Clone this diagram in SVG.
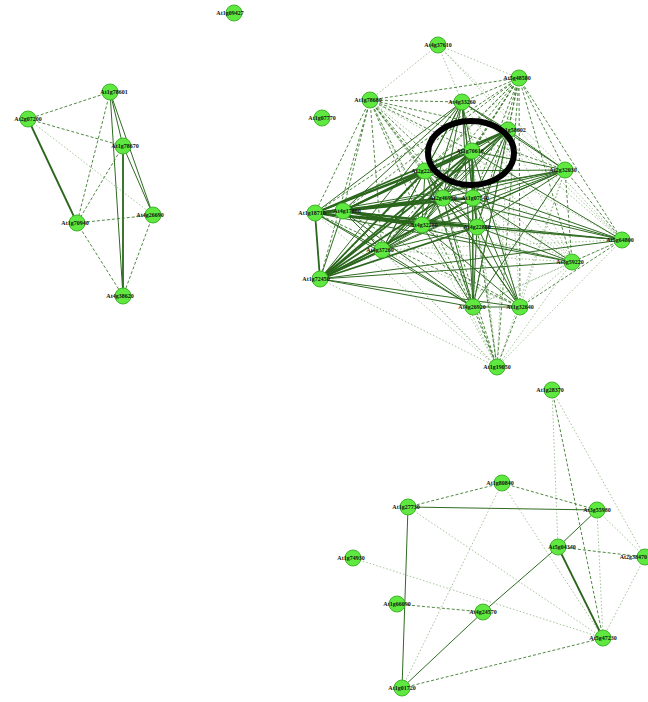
<svg xmlns="http://www.w3.org/2000/svg" width="648" height="702" viewBox="0 0 648 702">
<style>
.s{stroke:#2f6b22;stroke-width:1;fill:none}
.t{stroke:#2a661c;stroke-width:1.8;fill:none}
.d{stroke:#3c7a2e;stroke-width:0.9;stroke-dasharray:3 2;fill:none}
.o{stroke:#7fa873;stroke-width:0.7;stroke-dasharray:1.5 2;fill:none}
.n circle{fill:#5fe840;stroke:#3fb52a;stroke-width:1}
.n text{font-family:"Liberation Serif",serif;font-size:6px;font-weight:bold;fill:#111;text-anchor:middle}
</style>
<rect width="648" height="702" fill="#fff"/>
<g id="connectors">
<!-- top-left cluster -->
<line class="d" x1="110" y1="92" x2="28" y2="119"/>
<line class="s" x1="110" y1="92" x2="123" y2="146"/>
<line class="d" x1="110" y1="92" x2="77" y2="223"/>
<line class="s" x1="110" y1="92" x2="153" y2="215"/>
<line class="s" x1="110" y1="92" x2="123" y2="296"/>
<line class="d" x1="28" y1="119" x2="123" y2="146"/>
<line class="t" x1="28" y1="119" x2="77" y2="223"/>
<line class="o" x1="28" y1="119" x2="153" y2="215"/>
<line class="d" x1="123" y1="146" x2="77" y2="223"/>
<line class="s" x1="123" y1="146" x2="153" y2="215"/>
<line class="t" x1="123" y1="146" x2="123" y2="296"/>
<line class="d" x1="77" y1="223" x2="153" y2="215"/>
<line class="d" x1="77" y1="223" x2="123" y2="296"/>
<line class="d" x1="153" y1="215" x2="123" y2="296"/>
<!-- top-right cluster -->
<line class="o" x1="438" y1="45" x2="370" y2="100"/>
<line class="o" x1="438" y1="45" x2="462" y2="102"/>
<line class="o" x1="438" y1="45" x2="519" y2="78"/>
<line class="o" x1="438" y1="45" x2="565" y2="170"/>
<line class="o" x1="438" y1="45" x2="622" y2="240"/>
<line class="d" x1="370" y1="100" x2="462" y2="102"/>
<line class="d" x1="370" y1="100" x2="519" y2="78"/>
<line class="d" x1="370" y1="100" x2="508" y2="130"/>
<line class="d" x1="370" y1="100" x2="472" y2="151"/>
<line class="d" x1="370" y1="100" x2="565" y2="170"/>
<line class="d" x1="370" y1="100" x2="473" y2="198"/>
<line class="o" x1="370" y1="100" x2="622" y2="240"/>
<line class="o" x1="370" y1="100" x2="572" y2="262"/>
<line class="o" x1="370" y1="100" x2="520" y2="307"/>
<line class="d" x1="370" y1="100" x2="473" y2="307"/>
<line class="o" x1="370" y1="100" x2="497" y2="367"/>
<line class="d" x1="370" y1="100" x2="315" y2="213"/>
<line class="d" x1="370" y1="100" x2="343" y2="211"/>
<line class="d" x1="370" y1="100" x2="320" y2="279"/>
<line class="d" x1="370" y1="100" x2="382" y2="250"/>
<line class="d" x1="370" y1="100" x2="422" y2="225"/>
<line class="d" x1="370" y1="100" x2="443" y2="198"/>
<line class="d" x1="370" y1="100" x2="477" y2="227"/>
<line class="d" x1="370" y1="100" x2="425" y2="171"/>
<line class="d" x1="462" y1="102" x2="519" y2="78"/>
<line class="s" x1="462" y1="102" x2="508" y2="130"/>
<line class="s" x1="462" y1="102" x2="472" y2="151"/>
<line class="s" x1="462" y1="102" x2="565" y2="170"/>
<line class="s" x1="462" y1="102" x2="473" y2="198"/>
<line class="o" x1="462" y1="102" x2="622" y2="240"/>
<line class="o" x1="462" y1="102" x2="572" y2="262"/>
<line class="o" x1="462" y1="102" x2="520" y2="307"/>
<line class="s" x1="462" y1="102" x2="473" y2="307"/>
<line class="o" x1="462" y1="102" x2="497" y2="367"/>
<line class="s" x1="462" y1="102" x2="315" y2="213"/>
<line class="s" x1="462" y1="102" x2="343" y2="211"/>
<line class="s" x1="462" y1="102" x2="320" y2="279"/>
<line class="s" x1="462" y1="102" x2="382" y2="250"/>
<line class="s" x1="462" y1="102" x2="422" y2="225"/>
<line class="s" x1="462" y1="102" x2="443" y2="198"/>
<line class="s" x1="462" y1="102" x2="477" y2="227"/>
<line class="s" x1="462" y1="102" x2="425" y2="171"/>
<line class="d" x1="519" y1="78" x2="508" y2="130"/>
<line class="d" x1="519" y1="78" x2="472" y2="151"/>
<line class="d" x1="519" y1="78" x2="565" y2="170"/>
<line class="d" x1="519" y1="78" x2="473" y2="198"/>
<line class="d" x1="519" y1="78" x2="622" y2="240"/>
<line class="d" x1="519" y1="78" x2="572" y2="262"/>
<line class="d" x1="519" y1="78" x2="520" y2="307"/>
<line class="d" x1="519" y1="78" x2="473" y2="307"/>
<line class="d" x1="519" y1="78" x2="497" y2="367"/>
<line class="d" x1="519" y1="78" x2="315" y2="213"/>
<line class="d" x1="519" y1="78" x2="343" y2="211"/>
<line class="d" x1="519" y1="78" x2="320" y2="279"/>
<line class="d" x1="519" y1="78" x2="382" y2="250"/>
<line class="d" x1="519" y1="78" x2="422" y2="225"/>
<line class="d" x1="519" y1="78" x2="443" y2="198"/>
<line class="d" x1="519" y1="78" x2="477" y2="227"/>
<line class="d" x1="519" y1="78" x2="425" y2="171"/>
<line class="s" x1="508" y1="130" x2="472" y2="151"/>
<line class="s" x1="508" y1="130" x2="565" y2="170"/>
<line class="s" x1="508" y1="130" x2="473" y2="198"/>
<line class="o" x1="508" y1="130" x2="622" y2="240"/>
<line class="o" x1="508" y1="130" x2="572" y2="262"/>
<line class="o" x1="508" y1="130" x2="520" y2="307"/>
<line class="s" x1="508" y1="130" x2="473" y2="307"/>
<line class="o" x1="508" y1="130" x2="497" y2="367"/>
<line class="t" x1="508" y1="130" x2="315" y2="213"/>
<line class="t" x1="508" y1="130" x2="343" y2="211"/>
<line class="t" x1="508" y1="130" x2="320" y2="279"/>
<line class="s" x1="508" y1="130" x2="382" y2="250"/>
<line class="s" x1="508" y1="130" x2="422" y2="225"/>
<line class="s" x1="508" y1="130" x2="443" y2="198"/>
<line class="s" x1="508" y1="130" x2="477" y2="227"/>
<line class="s" x1="508" y1="130" x2="425" y2="171"/>
<line class="s" x1="472" y1="151" x2="565" y2="170"/>
<line class="t" x1="472" y1="151" x2="473" y2="198"/>
<line class="s" x1="472" y1="151" x2="622" y2="240"/>
<line class="o" x1="472" y1="151" x2="572" y2="262"/>
<line class="s" x1="472" y1="151" x2="520" y2="307"/>
<line class="s" x1="472" y1="151" x2="473" y2="307"/>
<line class="o" x1="472" y1="151" x2="497" y2="367"/>
<line class="t" x1="472" y1="151" x2="315" y2="213"/>
<line class="t" x1="472" y1="151" x2="343" y2="211"/>
<line class="t" x1="472" y1="151" x2="320" y2="279"/>
<line class="t" x1="472" y1="151" x2="382" y2="250"/>
<line class="s" x1="472" y1="151" x2="422" y2="225"/>
<line class="s" x1="472" y1="151" x2="443" y2="198"/>
<line class="s" x1="472" y1="151" x2="477" y2="227"/>
<line class="s" x1="472" y1="151" x2="425" y2="171"/>
<line class="s" x1="565" y1="170" x2="473" y2="198"/>
<line class="d" x1="565" y1="170" x2="622" y2="240"/>
<line class="d" x1="565" y1="170" x2="572" y2="262"/>
<line class="o" x1="565" y1="170" x2="520" y2="307"/>
<line class="s" x1="565" y1="170" x2="473" y2="307"/>
<line class="o" x1="565" y1="170" x2="497" y2="367"/>
<line class="s" x1="565" y1="170" x2="315" y2="213"/>
<line class="s" x1="565" y1="170" x2="343" y2="211"/>
<line class="s" x1="565" y1="170" x2="320" y2="279"/>
<line class="s" x1="565" y1="170" x2="382" y2="250"/>
<line class="s" x1="565" y1="170" x2="422" y2="225"/>
<line class="s" x1="565" y1="170" x2="443" y2="198"/>
<line class="s" x1="565" y1="170" x2="477" y2="227"/>
<line class="s" x1="565" y1="170" x2="425" y2="171"/>
<line class="s" x1="473" y1="198" x2="622" y2="240"/>
<line class="s" x1="473" y1="198" x2="572" y2="262"/>
<line class="s" x1="473" y1="198" x2="520" y2="307"/>
<line class="s" x1="473" y1="198" x2="473" y2="307"/>
<line class="o" x1="473" y1="198" x2="497" y2="367"/>
<line class="t" x1="473" y1="198" x2="315" y2="213"/>
<line class="t" x1="473" y1="198" x2="343" y2="211"/>
<line class="t" x1="473" y1="198" x2="320" y2="279"/>
<line class="s" x1="473" y1="198" x2="382" y2="250"/>
<line class="s" x1="473" y1="198" x2="422" y2="225"/>
<line class="s" x1="473" y1="198" x2="443" y2="198"/>
<line class="s" x1="473" y1="198" x2="477" y2="227"/>
<line class="s" x1="473" y1="198" x2="425" y2="171"/>
<line class="d" x1="622" y1="240" x2="572" y2="262"/>
<line class="d" x1="622" y1="240" x2="520" y2="307"/>
<line class="o" x1="622" y1="240" x2="473" y2="307"/>
<line class="o" x1="622" y1="240" x2="497" y2="367"/>
<line class="s" x1="622" y1="240" x2="315" y2="213"/>
<line class="s" x1="622" y1="240" x2="343" y2="211"/>
<line class="s" x1="622" y1="240" x2="320" y2="279"/>
<line class="o" x1="622" y1="240" x2="382" y2="250"/>
<line class="o" x1="622" y1="240" x2="422" y2="225"/>
<line class="s" x1="622" y1="240" x2="443" y2="198"/>
<line class="s" x1="622" y1="240" x2="477" y2="227"/>
<line class="s" x1="622" y1="240" x2="425" y2="171"/>
<line class="o" x1="572" y1="262" x2="520" y2="307"/>
<line class="o" x1="572" y1="262" x2="473" y2="307"/>
<line class="o" x1="572" y1="262" x2="497" y2="367"/>
<line class="s" x1="572" y1="262" x2="315" y2="213"/>
<line class="s" x1="572" y1="262" x2="343" y2="211"/>
<line class="s" x1="572" y1="262" x2="320" y2="279"/>
<line class="o" x1="572" y1="262" x2="382" y2="250"/>
<line class="o" x1="572" y1="262" x2="422" y2="225"/>
<line class="o" x1="572" y1="262" x2="443" y2="198"/>
<line class="s" x1="572" y1="262" x2="477" y2="227"/>
<line class="o" x1="572" y1="262" x2="425" y2="171"/>
<line class="s" x1="520" y1="307" x2="473" y2="307"/>
<line class="d" x1="520" y1="307" x2="497" y2="367"/>
<line class="d" x1="520" y1="307" x2="315" y2="213"/>
<line class="d" x1="520" y1="307" x2="343" y2="211"/>
<line class="s" x1="520" y1="307" x2="320" y2="279"/>
<line class="o" x1="520" y1="307" x2="382" y2="250"/>
<line class="s" x1="520" y1="307" x2="422" y2="225"/>
<line class="s" x1="520" y1="307" x2="443" y2="198"/>
<line class="s" x1="520" y1="307" x2="477" y2="227"/>
<line class="s" x1="520" y1="307" x2="425" y2="171"/>
<line class="d" x1="473" y1="307" x2="497" y2="367"/>
<line class="s" x1="473" y1="307" x2="315" y2="213"/>
<line class="s" x1="473" y1="307" x2="343" y2="211"/>
<line class="s" x1="473" y1="307" x2="320" y2="279"/>
<line class="s" x1="473" y1="307" x2="382" y2="250"/>
<line class="s" x1="473" y1="307" x2="422" y2="225"/>
<line class="s" x1="473" y1="307" x2="443" y2="198"/>
<line class="s" x1="473" y1="307" x2="477" y2="227"/>
<line class="s" x1="473" y1="307" x2="425" y2="171"/>
<line class="o" x1="497" y1="367" x2="315" y2="213"/>
<line class="o" x1="497" y1="367" x2="343" y2="211"/>
<line class="o" x1="497" y1="367" x2="320" y2="279"/>
<line class="o" x1="497" y1="367" x2="382" y2="250"/>
<line class="o" x1="497" y1="367" x2="422" y2="225"/>
<line class="d" x1="497" y1="367" x2="443" y2="198"/>
<line class="d" x1="497" y1="367" x2="477" y2="227"/>
<line class="d" x1="497" y1="367" x2="425" y2="171"/>
<line class="t" x1="315" y1="213" x2="343" y2="211"/>
<line class="t" x1="315" y1="213" x2="320" y2="279"/>
<line class="s" x1="315" y1="213" x2="382" y2="250"/>
<line class="t" x1="315" y1="213" x2="422" y2="225"/>
<line class="t" x1="315" y1="213" x2="443" y2="198"/>
<line class="t" x1="315" y1="213" x2="477" y2="227"/>
<line class="t" x1="315" y1="213" x2="425" y2="171"/>
<line class="s" x1="343" y1="211" x2="320" y2="279"/>
<line class="s" x1="343" y1="211" x2="382" y2="250"/>
<line class="t" x1="343" y1="211" x2="422" y2="225"/>
<line class="t" x1="343" y1="211" x2="443" y2="198"/>
<line class="t" x1="343" y1="211" x2="477" y2="227"/>
<line class="t" x1="343" y1="211" x2="425" y2="171"/>
<line class="t" x1="320" y1="279" x2="382" y2="250"/>
<line class="t" x1="320" y1="279" x2="422" y2="225"/>
<line class="t" x1="320" y1="279" x2="443" y2="198"/>
<line class="t" x1="320" y1="279" x2="477" y2="227"/>
<line class="t" x1="320" y1="279" x2="425" y2="171"/>
<line class="s" x1="382" y1="250" x2="422" y2="225"/>
<line class="s" x1="382" y1="250" x2="443" y2="198"/>
<line class="s" x1="382" y1="250" x2="477" y2="227"/>
<line class="s" x1="382" y1="250" x2="425" y2="171"/>
<line class="s" x1="422" y1="225" x2="443" y2="198"/>
<line class="s" x1="422" y1="225" x2="477" y2="227"/>
<line class="s" x1="422" y1="225" x2="425" y2="171"/>
<line class="s" x1="443" y1="198" x2="477" y2="227"/>
<line class="s" x1="443" y1="198" x2="425" y2="171"/>
<line class="s" x1="477" y1="227" x2="425" y2="171"/>
<!-- bottom cluster -->
<line class="o" x1="552" y1="390" x2="558" y2="547"/>
<line class="d" x1="552" y1="390" x2="603" y2="638"/>
<line class="o" x1="552" y1="390" x2="645" y2="557"/>
<line class="d" x1="502" y1="483" x2="408" y2="507"/>
<line class="d" x1="502" y1="483" x2="597" y2="510"/>
<line class="o" x1="502" y1="483" x2="402" y2="688"/>
<line class="o" x1="502" y1="483" x2="603" y2="638"/>
<line class="s" x1="408" y1="507" x2="597" y2="510"/>
<line class="s" x1="408" y1="507" x2="402" y2="688"/>
<line class="o" x1="408" y1="507" x2="603" y2="638"/>
<line class="s" x1="597" y1="510" x2="558" y2="547"/>
<line class="o" x1="597" y1="510" x2="603" y2="638"/>
<line class="o" x1="597" y1="510" x2="645" y2="557"/>
<line class="t" x1="558" y1="547" x2="603" y2="638"/>
<line class="d" x1="558" y1="547" x2="645" y2="557"/>
<line class="s" x1="402" y1="688" x2="483" y2="612"/>
<line class="s" x1="483" y1="612" x2="558" y2="547"/>
<line class="o" x1="353" y1="558" x2="603" y2="638"/>
<line class="d" x1="397" y1="604" x2="483" y2="612"/>
<line class="d" x1="402" y1="688" x2="603" y2="638"/>
<line class="o" x1="645" y1="557" x2="603" y2="638"/>
</g>
<g id="n_iso1" class="n"><circle cx="234" cy="13" r="8"/><text x="230" y="15">At1g09427</text></g>
<g id="n_A1" class="n"><circle cx="110" cy="92" r="8"/><text x="114" y="94">At1g78601</text></g>
<g id="n_A2" class="n"><circle cx="28" cy="119" r="8"/><text x="28" y="121">At2g07200</text></g>
<g id="n_A3" class="n"><circle cx="123" cy="146" r="8"/><text x="125" y="148">At1g78670</text></g>
<g id="n_A4" class="n"><circle cx="77" cy="223" r="8"/><text x="75" y="225">At1g70940</text></g>
<g id="n_A5" class="n"><circle cx="153" cy="215" r="8"/><text x="150" y="217">At4g26690</text></g>
<g id="n_A6" class="n"><circle cx="123" cy="296" r="8"/><text x="120" y="298">At4g38620</text></g>
<g id="n_B1" class="n"><circle cx="438" cy="45" r="8"/><text x="438" y="47">At4g37610</text></g>
<g id="n_B2" class="n"><circle cx="322" cy="118" r="8"/><text x="322" y="120">At1g07770</text></g>
<g id="n_B3" class="n"><circle cx="370" cy="100" r="8"/><text x="368" y="102">At1g78680</text></g>
<g id="n_B4" class="n"><circle cx="462" cy="102" r="8"/><text x="462" y="104">At4g33260</text></g>
<g id="n_B5" class="n"><circle cx="519" cy="78" r="8"/><text x="517" y="80">At5g48580</text></g>
<g id="n_B6" class="n"><circle cx="508" cy="130" r="8"/><text x="512" y="132">At1g58602</text></g>
<g id="n_B7" class="n"><circle cx="472" cy="151" r="8"/><text x="470" y="153">At1g70610</text></g>
<g id="n_B8" class="n"><circle cx="565" cy="170" r="8"/><text x="563" y="172">At2g32030</text></g>
<g id="n_B9" class="n"><circle cx="473" cy="198" r="8"/><text x="475" y="200">At1g07540</text></g>
<g id="n_B10" class="n"><circle cx="622" cy="240" r="8"/><text x="620" y="242">At5g64800</text></g>
<g id="n_B11" class="n"><circle cx="572" cy="262" r="8"/><text x="570" y="264">At3g59220</text></g>
<g id="n_B12" class="n"><circle cx="520" cy="307" r="8"/><text x="520" y="309">At1g32640</text></g>
<g id="n_B13" class="n"><circle cx="473" cy="307" r="8"/><text x="472" y="309">At4g26920</text></g>
<g id="n_B14" class="n"><circle cx="497" cy="367" r="8"/><text x="497" y="369">At1g19050</text></g>
<g id="n_B15" class="n"><circle cx="315" cy="213" r="8"/><text x="312" y="215">At1g18710</text></g>
<g id="n_B16" class="n"><circle cx="343" cy="211" r="8"/><text x="347" y="213">At4g17880</text></g>
<g id="n_B17" class="n"><circle cx="320" cy="279" r="8"/><text x="316" y="281">At1g72450</text></g>
<g id="n_B18" class="n"><circle cx="382" cy="250" r="8"/><text x="380" y="252">At4g37260</text></g>
<g id="n_B19" class="n"><circle cx="422" cy="225" r="8"/><text x="424" y="227">At4g32280</text></g>
<g id="n_B20" class="n"><circle cx="443" cy="198" r="8"/><text x="443" y="200">At2g46990</text></g>
<g id="n_B22" class="n"><circle cx="477" cy="227" r="8"/><text x="477" y="229">At4g22880</text></g>
<g id="n_B23" class="n"><circle cx="425" cy="171" r="8"/><text x="425" y="173">At2g22810</text></g>
<g id="n_C1" class="n"><circle cx="552" cy="390" r="8"/><text x="550" y="392">At1g28370</text></g>
<g id="n_C2" class="n"><circle cx="502" cy="483" r="8"/><text x="500" y="485">At1g80840</text></g>
<g id="n_C3" class="n"><circle cx="408" cy="507" r="8"/><text x="406" y="509">At1g27730</text></g>
<g id="n_C4" class="n"><circle cx="597" cy="510" r="8"/><text x="597" y="512">At3g55980</text></g>
<g id="n_C5" class="n"><circle cx="558" cy="547" r="8"/><text x="562" y="549">At5g04340</text></g>
<g id="n_C6" class="n"><circle cx="645" cy="557" r="8"/><text x="647" y="559" style="text-anchor:end">At2g38470</text></g>
<g id="n_C7" class="n"><circle cx="353" cy="558" r="8"/><text x="351" y="560">At1g74930</text></g>
<g id="n_C8" class="n"><circle cx="397" cy="604" r="8"/><text x="397" y="606">At1g66090</text></g>
<g id="n_C9" class="n"><circle cx="483" cy="612" r="8"/><text x="483" y="614">At4g24570</text></g>
<g id="n_C10" class="n"><circle cx="603" cy="638" r="8"/><text x="603" y="640">At5g47230</text></g>
<g id="n_C11" class="n"><circle cx="402" cy="688" r="8"/><text x="402" y="690">At1g01720</text></g>
<ellipse id="highlight" cx="471" cy="153" rx="43" ry="32" fill="none" stroke="#000" stroke-width="6"/>
</svg>
